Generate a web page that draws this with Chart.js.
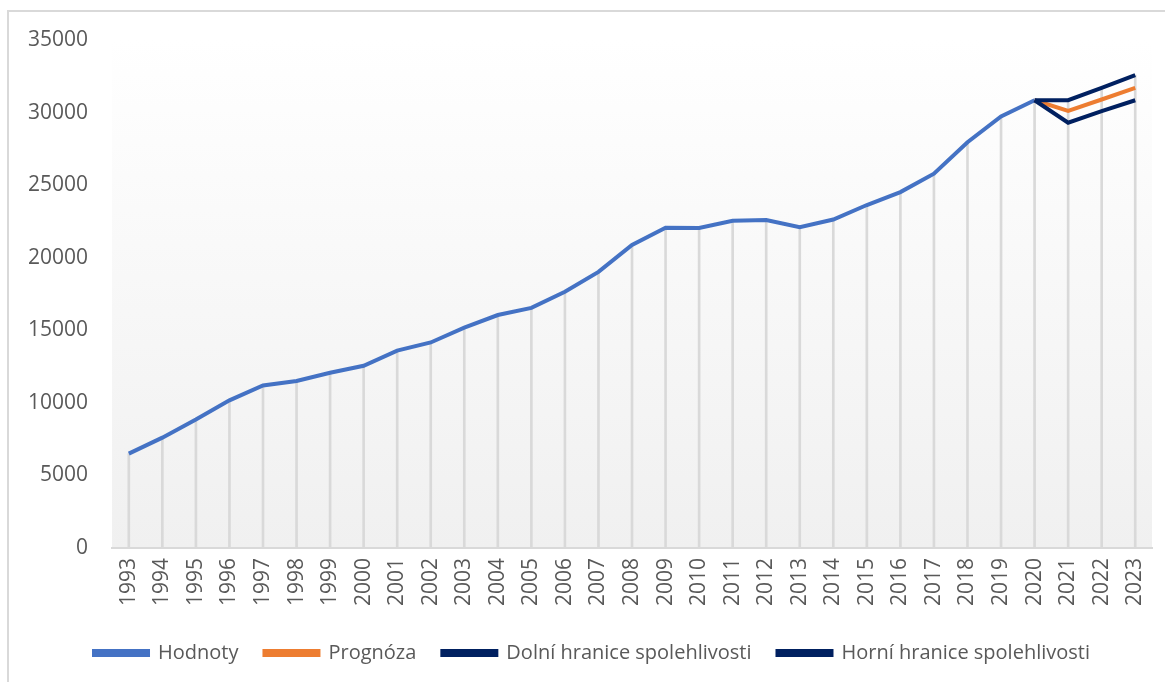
<!DOCTYPE html>
<html>
<head>
<meta charset="utf-8">
<script src="https://cdn.jsdelivr.net/npm/chart.js@4.4.1/dist/chart.umd.min.js"></script>
<style>
    html, body { margin: 0; padding: 0; background: #ffffff; overflow: hidden; }
    #frame { position: absolute; left: 7px; top: 10px; width: 1200px; height: 700px; border: 2px solid #d9d9d9; }
    #wrap { position: absolute; left: 0; top: 0; width: 1165px; height: 682px; }
</style>
</head>
<body>
<div id="frame"></div>
<div id="wrap"><canvas id="chart_canvas"></canvas></div>
<script>
    'use strict';

    var years = ['1993', '1994', '1995', '1996', '1997', '1998', '1999', '2000', '2001', '2002',
        '2003', '2004', '2005', '2006', '2007', '2008', '2009', '2010', '2011', '2012',
        '2013', '2014', '2015', '2016', '2017', '2018', '2019', '2020', '2021', '2022', '2023'];

    var hodnoty = [6500, 7600, 8850, 10170, 11200, 11500, 12070, 12550, 13600, 14160,
        15180, 16050, 16540, 17650, 19020, 20880, 22070, 22050, 22550, 22600,
        22100, 22630, 23630, 24520, 25790, 27960, 29740, 30850, null, null, null];

    var prognoza = [null, null, null, null, null, null, null, null, null, null,
        null, null, null, null, null, null, null, null, null, null,
        null, null, null, null, null, null, null, 30850, 30110, 30900, 31700];

    var dolni_hranice = [null, null, null, null, null, null, null, null, null, null,
        null, null, null, null, null, null, null, null, null, null,
        null, null, null, null, null, null, null, 30850, 29300, 30100, 30850];

    var horni_hranice = [null, null, null, null, null, null, null, null, null, null,
        null, null, null, null, null, null, null, null, null, null,
        null, null, null, null, null, null, null, 30850, 30850, 31700, 32580];

    var y_ticks = [0, 5000, 10000, 15000, 20000, 25000, 30000, 35000];

    // drop lines go from the axis up to the highest series at each year
    var drop_lines = years.map(function (y, i) {
        var vals = [hodnoty[i], prognoza[i], dolni_hranice[i], horni_hranice[i]].filter(function (v) {
            return v !== null;
        });
        return vals.length ? Math.max.apply(null, vals) : null;
    });

    var text_color = '#595959';
    var font_family = '"Open Sans", "Noto Sans", sans-serif';

    var plot_background = {
        id: 'plot_background',
        beforeDraw: function (chart) {
            var area = chart.chartArea;
            var ctx = chart.ctx;
            var grad = ctx.createLinearGradient(0, area.top, 0, area.bottom);
            grad.addColorStop(0, '#ffffff');
            grad.addColorStop(1, '#f0f0f0');
            ctx.save();
            ctx.fillStyle = grad;
            ctx.fillRect(area.left, area.top, area.right - area.left, area.bottom - area.top);
            ctx.restore();
        }
    };

    // the legend sits a bit right of the page centre
    var legend_shift = {
        id: 'legend_shift',
        afterLayout: function (chart) {
            if (chart.legend) {
                chart.legend.left += 14;
                chart.legend.right += 14;
            }
        }
    };

    function line_set(label, data, color, order) {
        return {
            type: 'line',
            label: label,
            data: data,
            borderColor: color,
            backgroundColor: color,
            borderWidth: 4,
            pointRadius: 0,
            tension: 0,
            spanGaps: false,
            order: order
        };
    }

    var ctx = document.getElementById('chart_canvas').getContext('2d');
    var chart = new Chart(ctx, {
        type: 'line',
        data: {
            labels: years,
            datasets: [
                line_set('Hodnoty', hodnoty, '#4472c4', 4),
                line_set('Prognóza', prognoza, '#ed7d31', 3),
                line_set('Dolní hranice spolehlivosti', dolni_hranice, '#002060', 2),
                line_set('Horní hranice spolehlivosti', horni_hranice, '#002060', 1),
                {
                    type: 'bar',
                    label: 'drop',
                    data: drop_lines,
                    backgroundColor: '#d9d9d9',
                    barThickness: 2,
                    order: 10
                }
            ]
        },
        options: {
            responsive: true,
            maintainAspectRatio: false,
            animation: false,
            layout: {
                padding: { left: 4, right: 13, top: 40, bottom: 9 }
            },
            plugins: {
                tooltip: { enabled: false },
                legend: {
                    position: 'bottom',
                    labels: {
                        filter: function (item) { return item.text !== 'drop'; },
                        sort: function (a, b) { return a.datasetIndex - b.datasetIndex; },
                        boxWidth: 54,
                        boxHeight: 4,
                        padding: 26,
                        color: text_color,
                        font: { family: font_family, size: 20 }
                    }
                }
            },
            scales: {
                x: {
                    offset: true,
                    grid: { display: false, drawTicks: false },
                    border: { display: true, color: '#d9d9d9', width: 2 },
                    afterFit: function (axis) {
                        // extra room between the year labels and the legend
                        axis.height += 1;
                        axis.paddingLeft = 0;
                        axis.paddingRight = 0;
                    },
                    ticks: {
                        minRotation: 90,
                        maxRotation: 90,
                        autoSkip: false,
                        padding: 10,
                        color: text_color,
                        font: { family: font_family, size: 21 }
                    }
                },
                y: {
                    min: 0,
                    max: 35000,
                    afterBuildTicks: function (axis) {
                        axis.ticks = y_ticks.map(function (v) { return { value: v }; });
                    },
                    grid: { display: false, drawTicks: false },
                    border: { display: false },
                    ticks: {
                        padding: 24,
                        color: text_color,
                        font: { family: font_family, size: 21 },
                        callback: function (value) { return String(value); }
                    }
                }
            }
        },
        plugins: [plot_background, legend_shift]
    });
</script>
</body>
</html>
